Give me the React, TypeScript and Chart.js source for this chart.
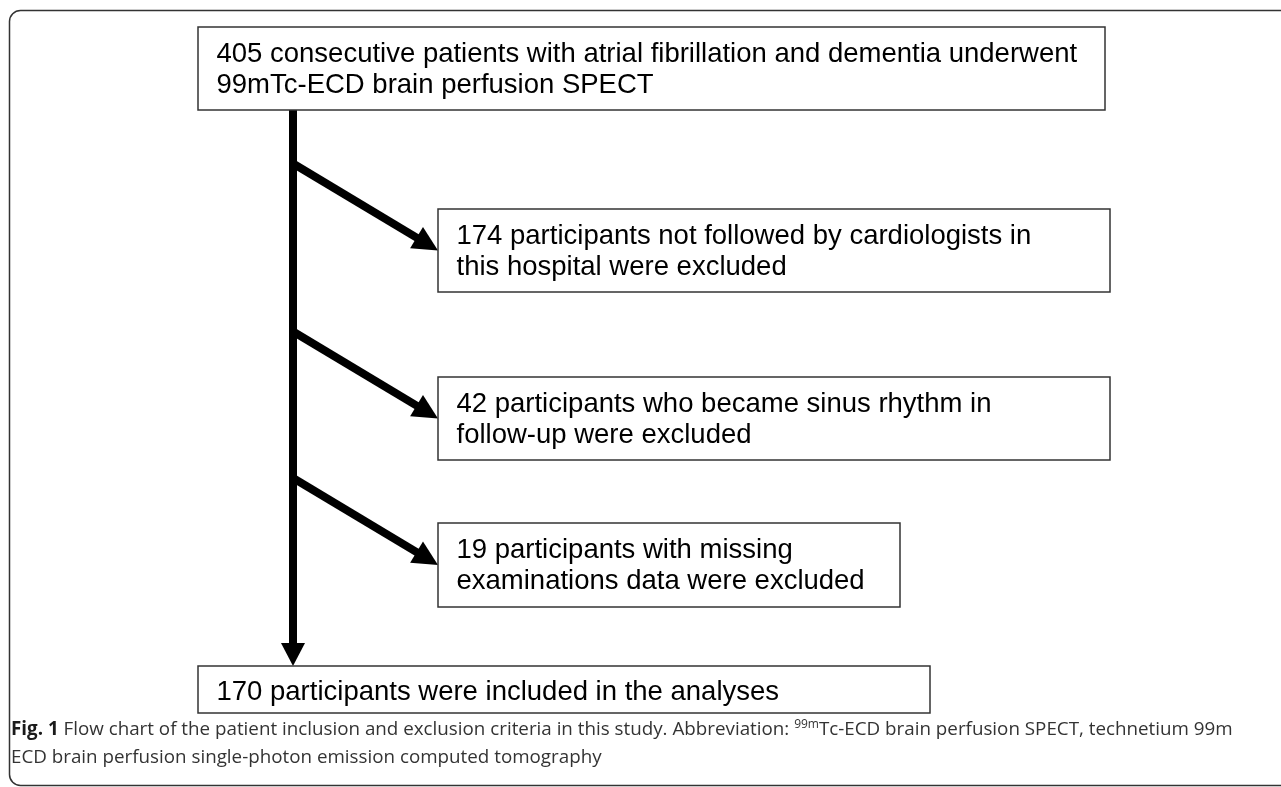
import React, { useEffect, useRef } from "react";
import { Chart, registerables } from "chart.js";

Chart.register(...registerables);

const W = 1281;
const H = 787;

// ---- data ----
const counts = [405, 174, 42, 19, 170];
const stepLabels = [
  ["consecutive patients with atrial fibrillation and dementia underwent", "99mTc-ECD brain perfusion SPECT"],
  ["participants not followed by cardiologists in", "this hospital were excluded"],
  ["participants who became sinus rhythm in", "follow-up were excluded"],
  ["participants with missing", "examinations data were excluded"],
  ["participants were included in the analyses"],
];
const captionBold = "Fig. 1";
const captionLine1a = " Flow chart of the patient inclusion and exclusion criteria in this study. Abbreviation: ";
const captionSup = "99m";
const captionLine1b = "Tc-ECD brain perfusion SPECT, technetium 99m";
const captionLine2 = "ECD brain perfusion single-photon emission computed tomography";

// ---- layout (canvas units) ----
const boxLeft = [198, 438, 438, 438, 198];
const boxRight = [1105, 1110, 1110, 900, 930];
const boxTop = [27, 209, 377, 523, 666];
const boxBottom = [110, 292, 460, 607, 713];
const trunkX = 293;
const branchRise = 87;

function drawArrow(ctx: CanvasRenderingContext2D, x1: number, y1: number, x2: number, y2: number, lw: number, headLen: number, headHalf: number) {
  const dx = x2 - x1;
  const dy = y2 - y1;
  const len = Math.hypot(dx, dy);
  const ux = dx / len;
  const uy = dy / len;
  const bx = x2 - ux * headLen;
  const by = y2 - uy * headLen;
  ctx.save();
  ctx.strokeStyle = "#000";
  ctx.fillStyle = "#000";
  ctx.lineWidth = lw;
  ctx.lineCap = "butt";
  ctx.beginPath();
  ctx.moveTo(x1, y1);
  ctx.lineTo(bx + ux * 2, by + uy * 2);
  ctx.stroke();
  ctx.beginPath();
  ctx.moveTo(x2, y2);
  ctx.lineTo(bx - uy * headHalf, by + ux * headHalf);
  ctx.lineTo(bx + uy * headHalf, by - ux * headHalf);
  ctx.closePath();
  ctx.fill();
  ctx.restore();
}

const flowPlugin = {
  id: "flowDiagram",
  afterDraw(chart: any) {
    const ctx: CanvasRenderingContext2D = chart.ctx;
    const xs = chart.scales.x;
    const ys = chart.scales.y;
    const px = (v: number) => xs.getPixelForValue(v);
    const py = (v: number) => ys.getPixelForValue(v);

    ctx.save();
    ctx.fillStyle = "#fff";
    ctx.fillRect(0, 0, chart.width, chart.height);

    // outer frame
    ctx.strokeStyle = "#333";
    ctx.lineWidth = 1.5;
    ctx.beginPath();
    (ctx as any).roundRect(px(9.5), py(10.5), px(W + 30) - px(9.5), py(785.5) - py(10.5), 11);
    ctx.stroke();

    // trunk arrow
    drawArrow(ctx, px(trunkX), py(boxBottom[0]), px(trunkX), py(boxTop[4]), 8, 23, 12);

    // branch arrows
    for (let i = 1; i <= 3; i++) {
      const mid = (boxTop[i] + boxBottom[i]) / 2;
      drawArrow(ctx, px(trunkX), py(mid - branchRise), px(boxLeft[i]), py(mid), 8, 25, 12.5);
    }

    // boxes
    for (let i = 0; i < counts.length; i++) {
      const l = px(boxLeft[i]);
      const t = py(boxTop[i]);
      const r = px(boxRight[i]);
      const b = py(boxBottom[i]);
      ctx.fillStyle = "#fff";
      ctx.fillRect(l, t, r - l, b - t);
      ctx.strokeStyle = "#333";
      ctx.lineWidth = 1.5;
      ctx.strokeRect(l, t, r - l, b - t);

      ctx.fillStyle = "#000";
      ctx.font = "27.5px 'Liberation Sans', Arial, sans-serif";
      ctx.textBaseline = "alphabetic";
      ctx.textAlign = "left";
      const lines = stepLabels[i].slice();
      lines[0] = counts[i] + " " + lines[0];
      const single = lines.length === 1;
      lines.forEach((ln, k) => {
        const base = single ? boxTop[i] + 34 : boxTop[i] + 35 + k * 31;
        ctx.fillText(ln, l + 18.5, py(base));
      });
    }

    // caption
    const fs = 18.8;
    let cx = px(11);
    const cy1 = py(735);
    const cy2 = py(763);
    ctx.fillStyle = "#1a1a1a";
    ctx.font = `bold ${fs}px 'Open Sans', sans-serif`;
    ctx.fillText(captionBold, cx, cy1);
    cx += ctx.measureText(captionBold).width;
    ctx.fillStyle = "#333";
    ctx.font = `${fs}px 'Open Sans', sans-serif`;
    ctx.fillText(captionLine1a, cx, cy1);
    cx += ctx.measureText(captionLine1a).width;
    ctx.font = "12px 'Open Sans', sans-serif";
    ctx.fillText(captionSup, cx, cy1 - 7.5);
    cx += ctx.measureText(captionSup).width;
    ctx.font = `${fs}px 'Open Sans', sans-serif`;
    ctx.fillText(captionLine1b, cx, cy1);
    ctx.fillText(captionLine2, px(11), cy2);

    ctx.restore();
  },
};

export default function App() {
  const ref = useRef<HTMLCanvasElement | null>(null);
  useEffect(() => {
    document.body.style.margin = "0";
    const canvas = ref.current;
    if (!canvas) return;
    const chart = new Chart(canvas, {
      type: "scatter",
      data: { datasets: [{ data: [], pointRadius: 0 }] },
      options: {
        animation: false,
        responsive: false,
        devicePixelRatio: 1,
        layout: { padding: 0 },
        plugins: { legend: { display: false }, tooltip: { enabled: false } },
        scales: {
          x: { type: "linear", min: 0, max: W, display: false },
          y: { type: "linear", min: 0, max: H, reverse: true, display: false },
        },
      },
      plugins: [flowPlugin],
    });
    return () => chart.destroy();
  }, []);
  return (
    <div style={{ position: "absolute", left: 0, top: 0, width: W, height: H, background: "#fff" }}>
      <canvas ref={ref} width={W} height={H} style={{ display: "block" }} />
    </div>
  );
}
